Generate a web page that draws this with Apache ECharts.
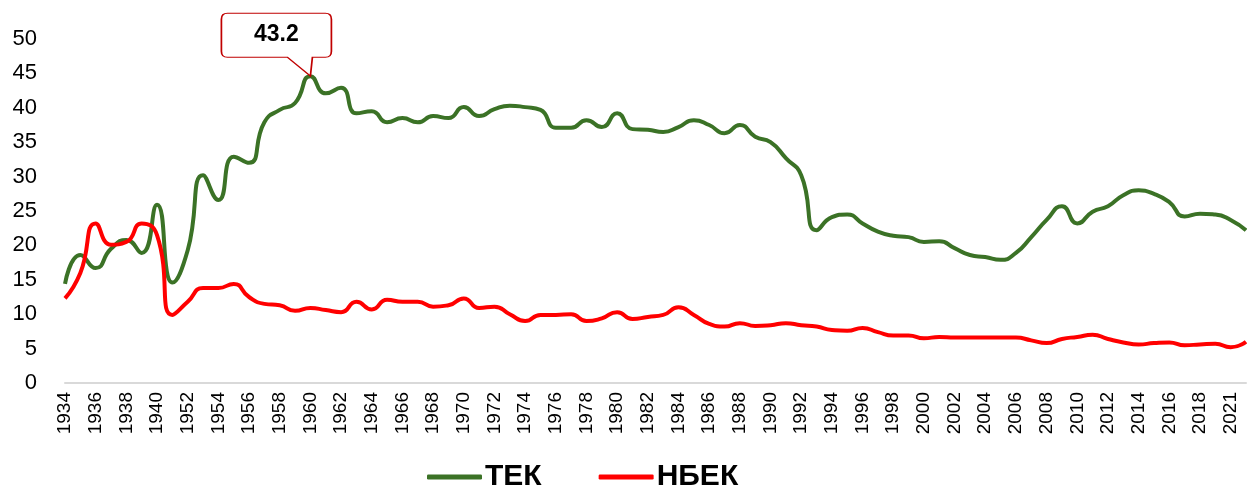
<!DOCTYPE html>
<html>
<head>
<meta charset="utf-8">
<script src="https://cdn.jsdelivr.net/npm/echarts@6/dist/echarts.min.js"></script>
<style>
  html, body { margin: 0; padding: 0; background: #fff; }
  #chart { width: 1247px; height: 486px; }
</style>
</head>
<body>
<div id="chart"></div>
<script>
// роки (між 1940 і 1952 та перед 2021 є пропущені роки)
var years = ["1934", "1935", "1936", "1937", "1938", "1939", "1940", "1951",
    "1952", "1953", "1954", "1955", "1956", "1957", "1958", "1959", "1960", "1961",
    "1962", "1963", "1964", "1965", "1966", "1967", "1968", "1969", "1970", "1971",
    "1972", "1973", "1974", "1975", "1976", "1977", "1978", "1979", "1980", "1981",
    "1982", "1983", "1984", "1985", "1986", "1987", "1988", "1989", "1990", "1991",
    "1992", "1993", "1994", "1995", "1996", "1997", "1998", "1999", "2000", "2001",
    "2002", "2003", "2004", "2005", "2006", "2007", "2008", "2009", "2010", "2011",
    "2012", "2013", "2014", "2015", "2016", "2017", "2018", "2020", "2021", "2022"];

var tekValues = [14.4, 18.6, 16.7, 19.5, 20.8, 18.9, 25.9, 14.6,
    19.3, 30.2, 26.6, 32.9, 32.0, 37.9, 39.7, 40.7, 44.6, 42.1,
    42.9, 39.2, 39.5, 37.9, 38.5, 37.9, 38.8, 38.5, 40.1, 38.8,
    39.8, 40.3, 40.1, 39.7, 37.1, 37.1, 38.2, 37.2, 39.2, 36.9,
    36.8, 36.5, 37.2, 38.2, 37.5, 36.3, 37.5, 35.8, 35.0, 32.7,
    30.2, 22.2, 24.1, 24.5, 23.2, 22.0, 21.4, 21.2, 20.5, 20.6,
    19.6, 18.6, 18.3, 17.9, 18.9, 21.2, 23.7, 25.7, 23.2, 24.9,
    25.7, 27.3, 28.0, 27.5, 26.3, 24.2, 24.6, 24.5, 23.7, 22.2];

var nbekValues = [12.3, 16.0, 23.2, 20.1, 20.5, 23.2, 21.5, 9.9,
    11.8, 13.8, 13.8, 14.4, 12.5, 11.5, 11.3, 10.5, 10.9, 10.6,
    10.3, 11.8, 10.7, 12.1, 11.8, 11.8, 11.1, 11.3, 12.3, 10.9,
    11.1, 10.0, 9.0, 9.9, 9.9, 10.0, 9.0, 9.4, 10.3, 9.3,
    9.6, 9.9, 11.0, 9.9, 8.6, 8.2, 8.7, 8.3, 8.4, 8.7,
    8.4, 8.2, 7.7, 7.6, 8.0, 7.4, 6.9, 6.9, 6.5, 6.7,
    6.6, 6.6, 6.6, 6.6, 6.6, 6.2, 5.8, 6.4, 6.7, 7.0,
    6.4, 5.9, 5.6, 5.8, 5.9, 5.5, 5.6, 5.7, 5.2, 6.0];

var peakLabel = "43.2";

var chart = echarts.init(document.getElementById("chart"));
var font = "Arial, 'Liberation Sans', sans-serif";

// виноска над максимумом
var calloutPath = "path://M6,0 H104 Q110,0 110,6 V38 Q110,44 104,44 H91 L89,63 L66,44 H6 Q0,44 0,38 V6 Q0,0 6,0 Z";

chart.setOption({
    animation: false,
    textStyle: { fontFamily: font },
    grid: { left: 65, right: 1, top: 39, bottom: 103, containLabel: false },
    legend: {
        top: 457,
        left: 422,
        itemWidth: 55,
        itemHeight: 5,
        itemGap: 57,
        icon: "roundRect",
        textStyle: { fontSize: 30, fontWeight: "bold", color: "#000", fontFamily: font, padding: [0, 0, 0, -2] },
        data: ["ТЕК", "НБЕК"]
    },
    xAxis: {
        type: "category",
        data: years,
        boundaryGap: false,
        axisLine: { lineStyle: { color: "#d9d9d9", width: 2 } },
        axisTick: { show: false },
        axisLabel: { interval: 1, rotate: 90, fontSize: 19, color: "#000", margin: 9, fontFamily: font }
    },
    yAxis: {
        type: "value",
        min: 0,
        max: 50,
        interval: 5,
        axisLine: { show: false },
        axisTick: { show: false },
        splitLine: { show: false },
        axisLabel: { fontSize: 22, color: "#000", margin: 28, fontFamily: font }
    },
    series: [
        {
            name: "ТЕК",
            type: "line",
            data: tekValues,
            smooth: 0.55,
            symbol: "none",
            lineStyle: { color: "#3b7226", width: 4 },
            itemStyle: { color: "#3b7226" },
            markPoint: {
                data: [{ type: "max" }],
                symbol: calloutPath,
                symbolSize: [110, 63],
                symbolOffset: [-34, -31.5],
                itemStyle: { color: "#fff", borderColor: "#c00000", borderWidth: 1.3 },
                label: {
                    show: true,
                    formatter: peakLabel,
                    color: "#000",
                    fontSize: 23,
                    fontWeight: "bold",
                    fontFamily: font,
                    offset: [0, -9.5]
                }
            }
        },
        {
            name: "НБЕК",
            type: "line",
            data: nbekValues,
            smooth: 0.55,
            symbol: "none",
            lineStyle: { color: "#ff0000", width: 4 },
            itemStyle: { color: "#ff0000" }
        }
    ]
});
</script>
</body>
</html>
